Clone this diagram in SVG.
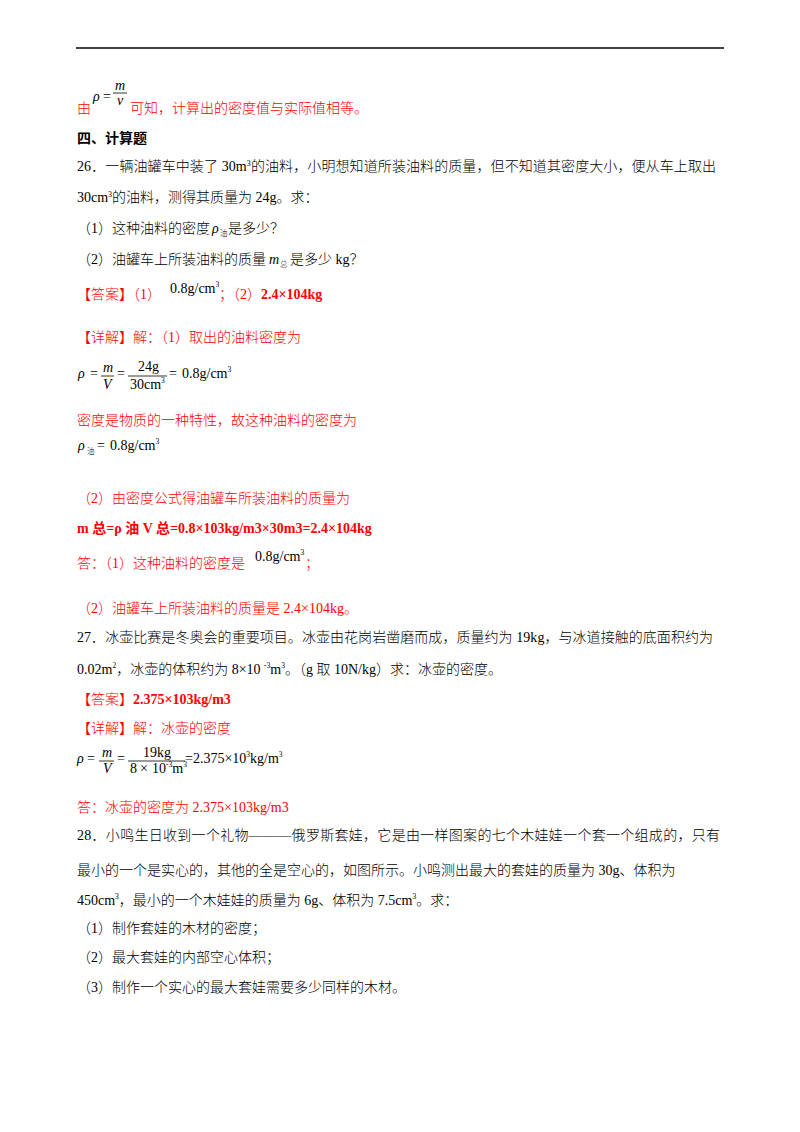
<svg xmlns="http://www.w3.org/2000/svg" width="800" height="1132" viewBox="0 0 800 1132">
<style>
.t{font-family:"Liberation Serif","Noto Sans CJK SC",serif;font-size:14px;fill:#000;font-weight:300}
.r{fill:#f00}
.b{font-weight:bold}
.i{font-style:italic}
.s{font-size:8px}
.ss{font-size:7.5px}
.bar{stroke:#000;stroke-width:0.8}
</style>
<rect width="800" height="1132" fill="#fff"/>
<line x1="76" y1="48" x2="724" y2="48" stroke="#000" stroke-width="1.6"/>

<g id="intro">
<text class="t r" x="77" y="113">由</text>
<text class="t i" x="93" y="101">ρ</text>
<text class="t" x="103" y="101">=</text>
<text class="t i" x="115" y="90">m</text>
<line class="bar" x1="113" y1="93" x2="127" y2="93"/>
<text class="t i" x="117" y="105">v</text>
<text class="t r" x="130" y="113">可知，计算出的密度值与实际值相等。</text>
<text class="t b" x="77" y="143">四、计算题</text>
</g>

<g id="q26">
<text class="t" x="77" y="171" textLength="639" lengthAdjust="spacing">26．一辆油罐车中装了 30m<tspan class="s" dy="-5">3</tspan><tspan dy="5">的油料，小明想知道所装油料的质量，但不知道其密度大小，便从车上取出</tspan></text>
<text class="t" x="77" y="202">30cm<tspan class="s" dy="-5">3</tspan><tspan dy="5">的油料，测得其质量为 24g。求：</tspan></text>
<text class="t" x="77" y="233">（1）这种油料的密度</text>
<text class="t i" x="212" y="233">ρ</text>
<text class="t ss" x="220" y="236">油</text>
<text class="t" x="228" y="233">是多少？</text>
<text class="t" x="77" y="264">（2）油罐车上所装油料的质量</text>
<text class="t i" x="269" y="264">m</text>
<text class="t ss" x="280" y="267">总</text>
<text class="t" x="290" y="264">是多少 kg？</text>
</g>

<g id="a26">
<text class="t r" x="77" y="299">【答案】（1）</text>
<text class="t" x="170" y="293">0.8g/cm<tspan class="ss" dy="-6">3</tspan></text>
<text class="t r" x="219" y="299">；（2）<tspan class="b">2.4×104kg</tspan></text>
<text class="t r" x="77" y="342">【详解】解：（1）取出的油料密度为</text>

<text class="t i" x="78" y="378">ρ</text>
<text class="t" x="90" y="378">=</text>
<text class="t i" x="103" y="372">m</text>
<line class="bar" x1="101" y1="376" x2="114" y2="376"/>
<text class="t i" x="103" y="389">V</text>
<text class="t" x="117" y="378">=</text>
<text class="t" x="138" y="371">24g</text>
<line class="bar" x1="128" y1="376" x2="167" y2="376"/>
<text class="t" x="130" y="389">30cm<tspan class="ss" dy="-6">3</tspan></text>
<text class="t" x="169" y="378">=</text>
<text class="t" x="182" y="378">0.8g/cm<tspan class="ss" dy="-6">3</tspan></text>

<text class="t r" x="77" y="425">密度是物质的一种特性，故这种油料的密度为</text>
<text class="t i" x="78" y="450">ρ</text>
<text class="t ss" x="87" y="454">油</text>
<text class="t" x="97" y="450">=</text>
<text class="t" x="110" y="450">0.8g/cm<tspan class="ss" dy="-6">3</tspan></text>

<text class="t r" x="77" y="503">（2）由密度公式得油罐车所装油料的质量为</text>
<text class="t r b" x="77" y="533">m 总=ρ 油 V 总=0.8×103kg/m3×30m3=2.4×104kg</text>
<text class="t r" x="77" y="568">答：（1）这种油料的密度是</text>
<text class="t" x="255" y="561">0.8g/cm<tspan class="ss" dy="-6">3</tspan></text>
<text class="t r" x="305" y="568">；</text>
<text class="t r" x="77" y="613">（2）油罐车上所装油料的质量是 2.4×104kg。</text>
</g>

<g id="q27">
<text class="t" x="77" y="642" textLength="636" lengthAdjust="spacing">27．冰壶比赛是冬奥会的重要项目。冰壶由花岗岩凿磨而成，质量约为 19kg，与冰道接触的底面积约为</text>
<text class="t" x="77" y="674">0.02m<tspan class="ss" dy="-6">2</tspan><tspan dy="6">，冰壶的体积约为 8×10 </tspan><tspan class="ss" dy="-6">-3</tspan><tspan dy="6">m</tspan><tspan class="ss" dy="-6">3</tspan><tspan dy="6">。（g 取 10N/kg）求：冰壶的密度。</tspan></text>
</g>

<g id="a27">
<text class="t r" x="77" y="704">【答案】<tspan class="b">2.375×103kg/m3</tspan></text>
<text class="t r" x="77" y="733">【详解】解：冰壶的密度</text>
<text class="t i" x="77" y="763">ρ</text>
<text class="t" x="87" y="763">=</text>
<text class="t i" x="102" y="757">m</text>
<line class="bar" x1="99" y1="761" x2="114" y2="761"/>
<text class="t i" x="103" y="773">V</text>
<text class="t" x="117" y="763">=</text>
<text class="t" x="143" y="757">19kg</text>
<line class="bar" x1="128" y1="761" x2="185" y2="761"/>
<text class="t" x="130" y="773">8</text>
<text class="t" x="140" y="773">×</text>
<text class="t" x="152" y="773">10<tspan class="ss" dy="-6">-3</tspan><tspan dy="6">m</tspan><tspan class="ss" dy="-6">3</tspan></text>
<text class="t" x="185" y="763">=2.375×10<tspan class="ss" dy="-6">3</tspan><tspan dy="6">kg/m</tspan><tspan class="ss" dy="-6">3</tspan></text>
<text class="t r" x="77" y="812">答：冰壶的密度为 2.375×103kg/m3</text>
</g>

<g id="q28">
<text class="t" x="77" y="840" textLength="643" lengthAdjust="spacing">28．小鸣生日收到一个礼物———俄罗斯套娃，它是由一样图案的七个木娃娃一个套一个组成的，只有</text>
<text class="t" x="77" y="875">最小的一个是实心的，其他的全是空心的，如图所示。小鸣测出最大的套娃的质量为 30g、体积为</text>
<text class="t" x="77" y="905">450cm<tspan class="ss" dy="-6">3</tspan><tspan dy="6">，最小的一个木娃娃的质量为 6g、体积为 7.5cm</tspan><tspan class="ss" dy="-6">3</tspan><tspan dy="6">。求：</tspan></text>
<text class="t" x="77" y="933">（1）制作套娃的木材的密度；</text>
<text class="t" x="77" y="962">（2）最大套娃的内部空心体积；</text>
<text class="t" x="77" y="992">（3）制作一个实心的最大套娃需要多少同样的木材。</text>
</g>
</svg>
